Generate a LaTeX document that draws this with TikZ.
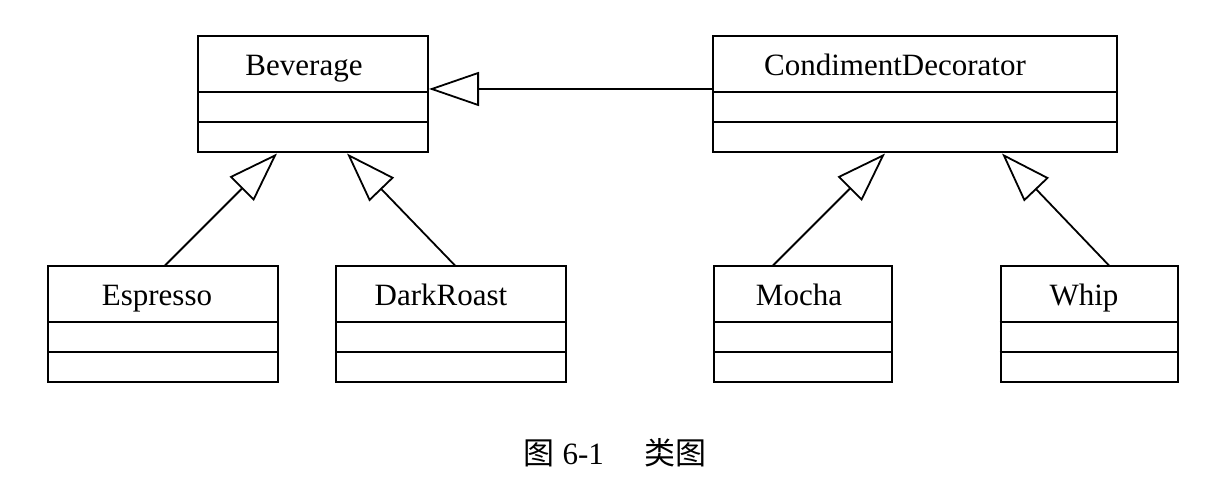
\documentclass[tikz,border=0pt]{standalone}
\usepackage{fontspec}
\setmainfont{Liberation Serif}
\newfontfamily\cjk{Noto Sans CJK SC}
\usetikzlibrary{arrows.meta, positioning}

\begin{document}
\begin{tikzpicture}[x=0.5pt, y=-0.5pt,
  classbox/.style={rectangle, draw, line width=1pt, minimum height=58pt, inner sep=0pt},
  classname/.style={font=\fontsize{15.5}{18}\selectfont, anchor=base},
  inherit/.style={line width=0.9pt, -{Triangle[open, length=25pt, width=17pt]}},
]
  \useasboundingbox (0,0) rectangle (1214,490);

  % --- classes: name/centre x/centre y/width/text shift/label ---
  \foreach \nm/\cx/\cy/\w/\dx/\txt in {
    bev/313/94.5/230/-9/Beverage,
    cond/915/94.5/404/-20/CondimentDecorator,
    esp/163/324.5/230/-6/Espresso,
    dark/451/324.5/230/-10/DarkRoast,
    mocha/803/324.5/178/-4/Mocha,
    whip/1089/324.5/177/-5/Whip
  } {
    \node[classbox, minimum width=\w*0.5pt] (\nm) at (\cx,\cy) {};
    \node[classname] (\nm-name) at ([xshift=\dx*0.5pt, yshift=-20pt]\nm.north) {\txt};
    \draw[line width=1pt] ([yshift=-28.5pt]\nm.north west) -- ([yshift=-28.5pt]\nm.north east);
    \draw[line width=1pt] ([yshift=-43.5pt]\nm.north west) -- ([yshift=-43.5pt]\nm.north east);
  }

  % --- generalisations ---
  \draw[inherit] ([xshift=1pt]esp.north) -- ([xshift=-18pt]bev.south);
  \draw[inherit] ([xshift=2pt]dark.north) -- ([xshift=17pt]bev.south);
  \draw[inherit] ([xshift=-15pt]mocha.north) -- ([xshift=-15pt]cond.south);
  \draw[inherit] ([xshift=10pt]whip.north) -- ([xshift=43.5pt]cond.south);
  \draw[inherit] ([yshift=2.75pt]cond.west) -- ([yshift=2.75pt]bev.east);

  % caption
  \node[font=\fontsize{15.5}{18}\selectfont] (caption) at (615,453)
    {{\cjk 图} 6-1\hspace{1.3em}{\cjk 类图}};
\end{tikzpicture}
\end{document}
